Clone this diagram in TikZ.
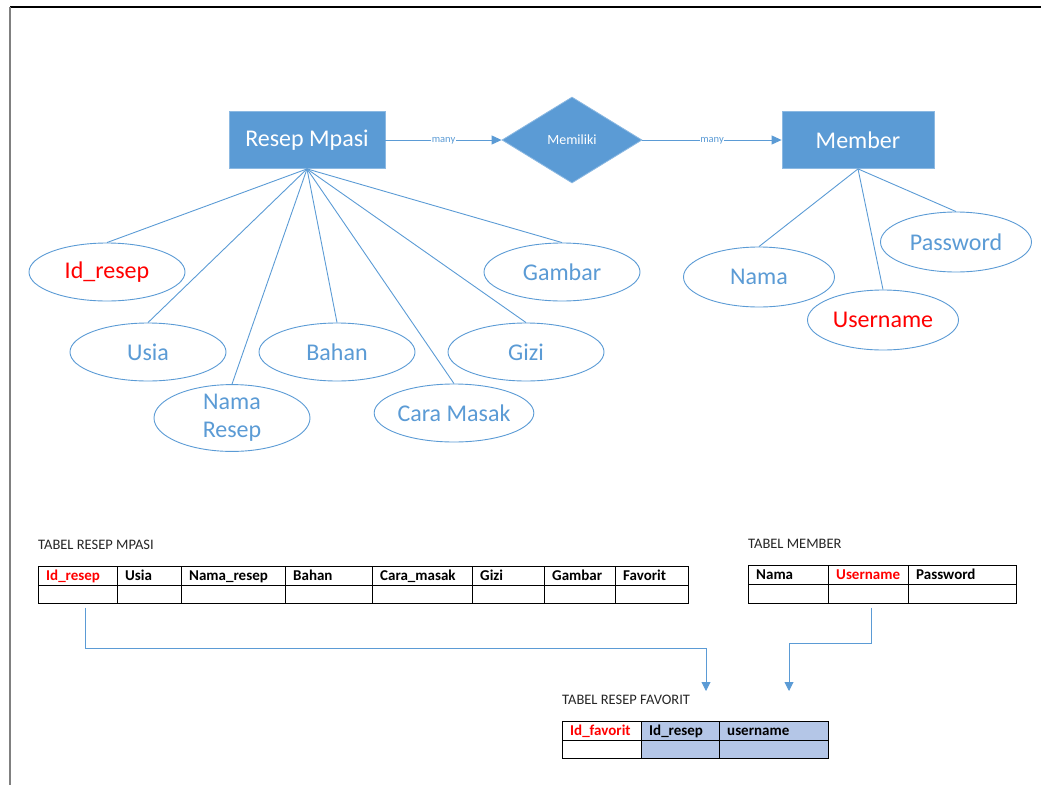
\documentclass[tikz,border=0pt]{standalone}
\usepackage{fontspec}
\setmainfont{Carlito}
\usetikzlibrary{shapes.geometric,arrows.meta}

\definecolor{erblue}{HTML}{5B9BD5}
\definecolor{erred}{HTML}{FF0000}
\definecolor{fkfill}{HTML}{B4C6E7}
\definecolor{lbl}{HTML}{262626}

\tikzset{
  entity/.style={rectangle, fill=erblue, draw=erblue!70!white, line width=0.8pt,
    text=white, font=\fontsize{24}{28}\selectfont, minimum width=156pt, minimum height=57pt, inner sep=0pt},
  relation/.style={diamond, fill=erblue, draw=erblue!70!white, line width=0.8pt, text=white,
    font=\fontsize{14}{16}\selectfont, minimum width=140pt, minimum height=86pt, inner sep=0pt, aspect=1.63},
  attr/.style={ellipse, draw=erblue, line width=0.9pt, fill=white, text=erblue,
    font=\fontsize{24}{28}\selectfont, inner sep=0pt, align=center},
  attrA/.style={attr, minimum width=156pt, minimum height=58pt},
  attrB/.style={attr, minimum width=151pt, minimum height=60pt},
  key/.style={text=erred},
  link/.style={draw=erblue, line width=0.9pt},
  arrowlink/.style={link, -{Triangle[width=9pt,length=10pt]}},
  card/.style={fill=white, text=erblue, font=\fontsize{10.5}{12}\selectfont, inner sep=0.5pt},
  tlabel/.style={anchor=base west, text=lbl, font=\fontsize{14.5}{16}\selectfont, inner sep=0pt},
  cell/.style={draw=black, line width=0.9pt, anchor=north west, inner sep=0pt},
  celltext/.style={anchor=base west, inner sep=0pt, font=\bfseries\fontsize{15}{16}\selectfont},
  fk/.style={fill=fkfill}
}

% table cell: name, x, y, width, height, text, extra style
\newcommand{\tabcell}[7]{%
  \node[cell, minimum width=#4pt, minimum height=#5pt, #7] (#1) at (#2,#3) {};
  \node[celltext] (#1-t) at ([xshift=8pt,yshift=-14.5pt]#1.north west) {#6};
}

\begin{document}
\begin{tikzpicture}[x=1pt,y=-1pt]
\useasboundingbox (0,0) rectangle (1050,785);

% page frame
\draw[black, line width=1.2pt] (10,7) -- (1041,7);
\draw[gray, line width=1.6pt] (10,7) -- (10,785);

% entities and relationship
\node[entity] (resep) at (307,140) {Resep Mpasi};
\node[relation] (rel) at (572,140) {Memiliki};
\node[entity, minimum width=152pt] (member) at (858,140) {Member};

\draw[arrowlink] (resep.east) -- node[card, pos=0.5, yshift=-1pt] {many} (rel.west);
\draw[arrowlink] (rel.east) -- node[card, pos=0.5, yshift=-1pt] {many} (member.west);

% attributes of Resep Mpasi
\node[attrA, key] (idresep) at (107,272) {Id\_resep};
\node[attrA] (usia) at (148,352) {Usia};
\node[attrA] (namaresep) at (232,418) {Nama\\Resep};
\node[attrA] (bahan) at (337,352) {Bahan};
\node[attrA] (caramasak) at (454,413) {Cara Masak};
\node[attrA] (gizi) at (526,352) {Gizi};
\node[attrA] (gambar) at (562,272) {Gambar};

\foreach \a in {idresep,usia,namaresep,bahan,caramasak,gizi,gambar}
  \draw[link] (resep.south) -- (\a.north);

% attributes of Member
\node[attrB] (nama) at (759,277) {Nama};
\node[attrB, key] (username) at (883,320) {Username};
\node[attrB] (password) at (956,242) {Password};

\foreach \a in {nama,username,password}
  \draw[link] (member.south) -- (\a.north);

% ---- TABEL RESEP MPASI ----
\node[tlabel] (lblresep) at (38,549) {TABEL RESEP MPASI};
\tabcell{r1}{38}{566}{79}{19}{\textcolor{erred}{Id\_resep}}{}
\tabcell{r2}{117}{566}{64}{19}{Usia}{}
\tabcell{r3}{181}{566}{104}{19}{Nama\_resep}{}
\tabcell{r4}{285}{566}{87}{19}{Bahan}{}
\tabcell{r5}{372}{566}{100}{19}{Cara\_masak}{}
\tabcell{r6}{472}{566}{72}{19}{Gizi}{}
\tabcell{r7}{544}{566}{71}{19}{Gambar}{}
\tabcell{r8}{615}{566}{73}{19}{Favorit}{}
\foreach \c/\x/\w in {1/38/79,2/117/64,3/181/104,4/285/87,5/372/100,6/472/72,7/544/71,8/615/73}
  \node[cell, minimum width=\w pt, minimum height=18pt] (rr\c) at (\x,585) {};

% ---- TABEL MEMBER ----
\node[tlabel] (lblmember) at (748,548) {TABEL MEMBER};
\tabcell{m1}{748}{565}{80}{19}{Nama}{}
\tabcell{m2}{828}{565}{80}{19}{\textcolor{erred}{Username}}{}
\tabcell{m3}{908}{565}{108}{19}{Password}{}
\foreach \c/\x/\w in {1/748/80,2/828/80,3/908/108}
  \node[cell, minimum width=\w pt, minimum height=19pt] (mm\c) at (\x,584) {};

% ---- TABEL RESEP FAVORIT ----
\node[tlabel] (lblfav) at (562,704) {TABEL RESEP FAVORIT};
\tabcell{f1}{562}{721}{79}{19}{\textcolor{erred}{Id\_favorit}}{}
\tabcell{f2}{641}{721}{78}{19}{Id\_resep}{fk}
\tabcell{f3}{719}{721}{109}{19}{username}{fk}
\node[cell, minimum width=79pt, minimum height=18pt] (ff1) at (562,740) {};
\node[cell, fk, minimum width=78pt, minimum height=18pt] (ff2) at (641,740) {};
\node[cell, fk, minimum width=109pt, minimum height=18pt] (ff3) at (719,740) {};

% foreign key references
\coordinate (srcA) at ([xshift=7.5pt, yshift=-4pt]rr1.south);
\coordinate (srcB) at ([xshift=3pt, yshift=-4pt]mm2.south);
\coordinate (tipA) at (706,691);
\coordinate (tipB) at (789,691);
\draw[link, -{Triangle[width=9pt,length=9pt]}] (srcA) -- ++(0,41) -| (tipA);
\draw[link, -{Triangle[width=9pt,length=9pt]}] (srcB) -- ++(0,36) -| (tipB);
\end{tikzpicture}
\end{document}
